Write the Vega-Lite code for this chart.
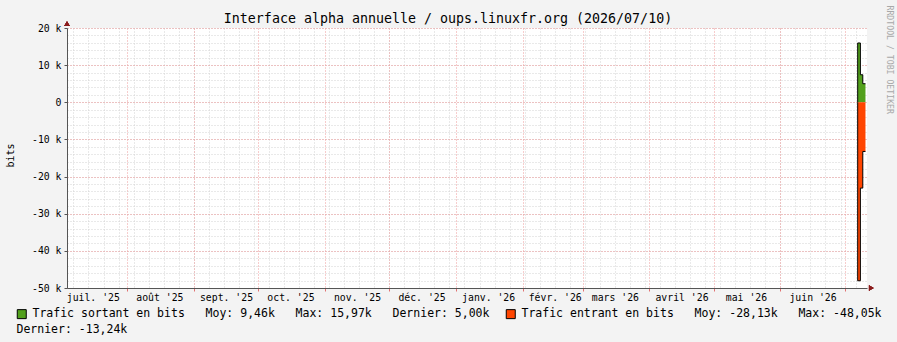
{
  "$schema": "https://vega.github.io/schema/vega-lite/v6.json",
  "width": 800,
  "height": 260,
  "autosize": {"type": "none"},
  "padding": {"left": 67, "top": 28, "right": 30, "bottom": 54},
  "background": "#F3F3F3",
  "title": {
    "text": "Interface alpha annuelle / oups.linuxfr.org (2026/07/10)",
    "font": "DejaVu Sans Mono",
    "fontSize": 13.3,
    "fontWeight": "normal",
    "color": "#000000",
    "anchor": "middle",
    "dx": -19,
    "offset": -31,
    "baseline": "alphabetic"
  },
  "data": {
    "values": [
      {"t": "2026-07-06T23:59", "sortant": 0, "entrant": 0},
      {"t": "2026-07-07T00:00", "sortant": 15970, "entrant": -48050},
      {"t": "2026-07-08T06:00", "sortant": 7410, "entrant": -23100},
      {"t": "2026-07-09T09:00", "sortant": 5000, "entrant": -13240},
      {"t": "2026-07-10T15:00", "sortant": 5000, "entrant": -13240}
    ]
  },
  "layer": [
    {
      "transform": [{"fold": ["sortant", "entrant"], "as": ["serie", "bits"]}],
      "mark": {"type": "area", "interpolate": "step-after", "opacity": 1},
      "encoding": {
        "x": {
          "field": "t", "type": "temporal",
          "scale": {"domain": [{"year": 2025, "month": 7, "date": 4}, {"year": 2026, "month": 7, "date": 11, "hours": 8}]},
          "axis": {
            "orient": "bottom", "title": null, "labels": false, "ticks": false, "domain": false,
            "grid": true, "gridColor": "#D2D2D2", "gridDash": [1, 2], "gridWidth": 1,
            "values": [
              {"year": 2025, "month": 7, "date": 7}, {"year": 2025, "month": 7, "date": 14}, {"year": 2025, "month": 7, "date": 21}, {"year": 2025, "month": 7, "date": 28},
              {"year": 2025, "month": 8, "date": 4}, {"year": 2025, "month": 8, "date": 11}, {"year": 2025, "month": 8, "date": 18}, {"year": 2025, "month": 8, "date": 25},
              {"year": 2025, "month": 9, "date": 1}, {"year": 2025, "month": 9, "date": 8}, {"year": 2025, "month": 9, "date": 15}, {"year": 2025, "month": 9, "date": 22}, {"year": 2025, "month": 9, "date": 29},
              {"year": 2025, "month": 10, "date": 6}, {"year": 2025, "month": 10, "date": 13}, {"year": 2025, "month": 10, "date": 20}, {"year": 2025, "month": 10, "date": 27},
              {"year": 2025, "month": 11, "date": 3}, {"year": 2025, "month": 11, "date": 10}, {"year": 2025, "month": 11, "date": 17}, {"year": 2025, "month": 11, "date": 24},
              {"year": 2025, "month": 12, "date": 1}, {"year": 2025, "month": 12, "date": 8}, {"year": 2025, "month": 12, "date": 15}, {"year": 2025, "month": 12, "date": 22}, {"year": 2025, "month": 12, "date": 29},
              {"year": 2026, "month": 1, "date": 5}, {"year": 2026, "month": 1, "date": 12}, {"year": 2026, "month": 1, "date": 19}, {"year": 2026, "month": 1, "date": 26},
              {"year": 2026, "month": 2, "date": 2}, {"year": 2026, "month": 2, "date": 9}, {"year": 2026, "month": 2, "date": 16}, {"year": 2026, "month": 2, "date": 23},
              {"year": 2026, "month": 3, "date": 2}, {"year": 2026, "month": 3, "date": 9}, {"year": 2026, "month": 3, "date": 16}, {"year": 2026, "month": 3, "date": 23}, {"year": 2026, "month": 3, "date": 30},
              {"year": 2026, "month": 4, "date": 6}, {"year": 2026, "month": 4, "date": 13}, {"year": 2026, "month": 4, "date": 20}, {"year": 2026, "month": 4, "date": 27},
              {"year": 2026, "month": 5, "date": 4}, {"year": 2026, "month": 5, "date": 11}, {"year": 2026, "month": 5, "date": 18}, {"year": 2026, "month": 5, "date": 25},
              {"year": 2026, "month": 6, "date": 1}, {"year": 2026, "month": 6, "date": 8}, {"year": 2026, "month": 6, "date": 15}, {"year": 2026, "month": 6, "date": 22}, {"year": 2026, "month": 6, "date": 29},
              {"year": 2026, "month": 7, "date": 6}
            ]
          }
        },
        "y": {
          "field": "bits", "type": "quantitative", "stack": null,
          "scale": {"domain": [-50000, 20000], "nice": false, "zero": false},
          "axis": {
            "orient": "left", "title": null, "labels": false, "ticks": false, "domain": false,
            "grid": true, "gridColor": "#D2D2D2", "gridDash": [1, 2], "gridWidth": 1,
            "values": [-50000, -48000, -46000, -44000, -42000, -40000, -38000, -36000, -34000, -32000, -30000, -28000, -26000, -24000, -22000, -20000, -18000, -16000, -14000, -12000, -10000, -8000, -6000, -4000, -2000, 0, 2000, 4000, 6000, 8000, 10000, 12000, 14000, 16000, 18000, 20000]
          }
        },
        "color": {
          "field": "serie", "type": "nominal",
          "scale": {"domain": ["sortant", "entrant"], "range": ["#52A01C", "#FF4500"]},
          "legend": {
            "orient": "none", "legendX": -51, "legendY": 280, "direction": "horizontal",
            "title": null, "padding": 0,
            "symbolType": "square", "symbolSize": 81, "symbolStrokeColor": "#000000", "symbolStrokeWidth": 1, "symbolOpacity": 1,
            "labelFont": "DejaVu Sans Mono", "labelFontSize": 11.5, "labelColor": "#000000", "labelOffset": 5, "labelLimit": 1000,
            "columnPadding": 14,
            "labelExpr": "datum.label == 'sortant' ? 'Trafic sortant en bits\u00a0\u00a0\u00a0Moy: 9,46k\u00a0\u00a0\u00a0Max: 15,97k\u00a0\u00a0\u00a0Dernier: 5,00k' : 'Trafic entrant en bits\u00a0\u00a0\u00a0Moy: -28,13k\u00a0\u00a0\u00a0Max: -48,05k'"
          }
        }
      }
    },
    {
      "mark": {"type": "line", "interpolate": "step-after", "color": "#000000", "strokeWidth": 1},
      "encoding": {
        "x": {
          "field": "t", "type": "temporal",
          "scale": {"domain": [{"year": 2025, "month": 7, "date": 4}, {"year": 2026, "month": 7, "date": 11, "hours": 8}]},
          "axis": {
            "orient": "bottom", "title": null, "labels": false, "domain": false,
            "tickCount": "month", "ticks": true, "tickColor": "#E07070", "tickSize": 3,
            "grid": true, "gridColor": "#EE9A9A", "gridDash": [1, 2], "gridWidth": 1
          }
        },
        "y": {
          "field": "sortant", "type": "quantitative",
          "scale": {"domain": [-50000, 20000], "nice": false, "zero": false},
          "axis": {
            "orient": "left",
            "values": [-50000, -40000, -30000, -20000, -10000, 0, 10000, 20000],
            "grid": true, "gridColor": "#EE9A9A", "gridDash": [1, 2], "gridWidth": 1,
            "labelExpr": "datum.value == 0 ? '0' : datum.value / 1000 + ' k'",
            "labelFont": "DejaVu Sans Mono", "labelFontSize": 9.8, "labelColor": "#000000", "labelPadding": 3,
            "ticks": true, "tickSize": 3, "tickColor": "#555555",
            "domain": true, "domainColor": "#555555",
            "title": "bits", "titleFont": "DejaVu Sans Mono", "titleFontSize": 10, "titleFontWeight": "normal", "titleColor": "#000000",
            "titleAngle": -90, "titleX": -56.3, "titleY": 127, "titleAlign": "center", "titleBaseline": "middle"
          }
        }
      }
    },
    {
      "mark": {"type": "line", "interpolate": "step-after", "color": "#000000", "strokeWidth": 1},
      "encoding": {
        "x": {
          "field": "t", "type": "temporal",
          "scale": {"domain": [{"year": 2025, "month": 7, "date": 4}, {"year": 2026, "month": 7, "date": 11, "hours": 8}]},
          "axis": {
            "orient": "bottom", "grid": false, "ticks": false,
            "values": [
              {"year": 2025, "month": 7, "date": 16}, {"year": 2025, "month": 8, "date": 16}, {"year": 2025, "month": 9, "date": 16},
              {"year": 2025, "month": 10, "date": 16}, {"year": 2025, "month": 11, "date": 16}, {"year": 2025, "month": 12, "date": 16},
              {"year": 2026, "month": 1, "date": 16}, {"year": 2026, "month": 2, "date": 16}, {"year": 2026, "month": 3, "date": 16},
              {"year": 2026, "month": 4, "date": 16}, {"year": 2026, "month": 5, "date": 16}, {"year": 2026, "month": 6, "date": 16}
            ],
            "labelExpr": "['janv.','févr.','mars','avril','mai','juin','juil.','août','sept.','oct.','nov.','déc.'][month(datum.value)] + \" '\" + timeFormat(datum.value, '%y')",
            "labelFont": "DejaVu Sans Mono", "labelFontSize": 9.8, "labelColor": "#000000", "labelPadding": 4,
            "labelOverlap": false, "labelFlush": false, "labelBound": false,
            "domain": true, "domainColor": "#555555",
            "title": "Dernier: -13,24k", "titleFont": "DejaVu Sans Mono", "titleFontSize": 11.5, "titleFontWeight": "normal", "titleColor": "#000000",
            "titleX": -51, "titleY": 44.5, "titleAlign": "left", "titleBaseline": "alphabetic", "titleAngle": 0
          }
        },
        "y": {
          "field": "entrant", "type": "quantitative",
          "scale": {"domain": [-50000, 20000], "nice": false, "zero": false},
          "axis": {
            "orient": "right", "labels": false, "ticks": false, "domain": false, "grid": false,
            "title": "RRDTOOL / TOBI OETIKER", "titleFont": "DejaVu Sans Mono", "titleFontSize": 8.2, "titleFontWeight": "normal", "titleColor": "#A8A8A8",
            "titleAngle": 90, "titleX": 21, "titleY": -23, "titleAlign": "left", "titleBaseline": "middle"
          }
        }
      }
    },
    {
      "mark": {"type": "point", "shape": "triangle-up", "filled": true, "color": "#8B1C1C", "size": 30, "opacity": 1},
      "encoding": {
        "x": {"datum": {"year": 2025, "month": 7, "date": 4}, "type": "temporal", "scale": {"domain": [{"year": 2025, "month": 7, "date": 4}, {"year": 2026, "month": 7, "date": 11, "hours": 8}]}, "axis": null},
        "y": {"datum": 21200, "type": "quantitative", "scale": {"domain": [-50000, 20000], "nice": false, "zero": false}, "axis": null}
      }
    },
    {
      "mark": {"type": "point", "shape": "triangle-right", "filled": true, "color": "#8B1C1C", "size": 30, "opacity": 1},
      "encoding": {
        "x": {"datum": {"year": 2026, "month": 7, "date": 13, "hours": 8}, "type": "temporal", "scale": {"domain": [{"year": 2025, "month": 7, "date": 4}, {"year": 2026, "month": 7, "date": 11, "hours": 8}]}, "axis": null},
        "y": {"datum": -50000, "type": "quantitative", "scale": {"domain": [-50000, 20000], "nice": false, "zero": false}, "axis": null}
      }
    }
  ],
  "resolve": {"axis": {"x": "independent", "y": "independent"}},
  "config": {
    "view": {"fill": "#FFFFFF", "stroke": null},
    "font": "DejaVu Sans Mono",
    "axis": {"labelFont": "DejaVu Sans Mono", "titleFont": "DejaVu Sans Mono"}
  }
}
